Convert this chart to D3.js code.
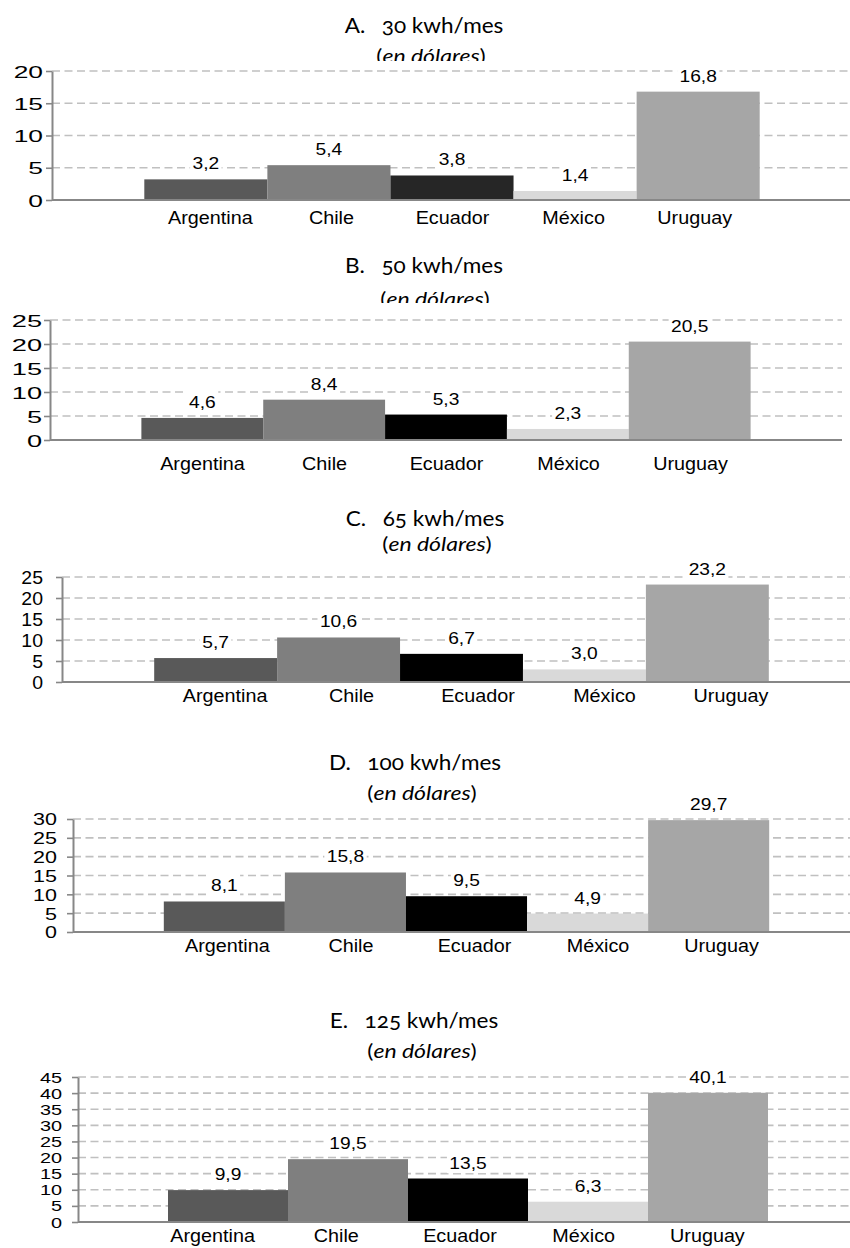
<!DOCTYPE html>
<html>
<head>
<meta charset="utf-8">
<script src="https://cdn.jsdelivr.net/npm/d3@7"></script>
<style>
  html, body { margin: 0; padding: 0; background: #fff; }
  svg { display: block; }
</style>
</head>
<body>
<svg id="chart" width="850" height="1248"></svg>
<script>
// ---- data ----
const countries = ["Argentina", "Chile", "Ecuador", "México", "Uruguay"];
const panelLetters = ["A", "B", "C", "D", "E"];
const consumptionKwh = [30, 50, 65, 100, 125];
const tariff30 = [3.2, 5.4, 3.8, 1.4, 16.8];
const tariff50 = [4.6, 8.4, 5.3, 2.3, 20.5];
const tariff65 = [5.7, 10.6, 6.7, 3.0, 23.2];
const tariff100 = [8.1, 15.8, 9.5, 4.9, 29.7];
const tariff125 = [9.9, 19.5, 13.5, 6.3, 40.1];
const yAxisMax = [20, 25, 25, 30, 45];
const yTickStep = 5;
const seriesValues = [tariff30, tariff50, tariff65, tariff100, tariff125];

// ---- styling ----
const countryColors = ["#595959", "#7f7f7f", "#000000", "#d9d9d9", "#a6a6a6"];
const gridColor = "#c0c0c0";
const axisColor = "#878787";
const sansFont = "'Liberation Sans', Arial, sans-serif";
const titleFont = "Lato, 'Open Sans', sans-serif";

// ---- frame of every panel ----
// left/right: plot area; top/base: pixel rows of the axis maximum and of zero;
// catLeft/catRight: band used to place the country names under the bars
const layout = [
  { left: 52, right: 852, top: 71,   base: 200,  catLeft: 59, catRight: 846, titleY: 33,   subY: 63,   subClip: 61,   titleX: 424, subX: 431, catY: 224,  tickGap: 9,  tickSize: 16.8, tickStretch: 1.57, ecuador: "#262626" },
  { left: 50, right: 842, top: 320,  base: 440,  catLeft: 50, catRight: 843, titleY: 273,  subY: 306,  subClip: 303,  titleX: 424, subX: 435, catY: 470,  tickGap: 8,  tickSize: 17,   tickStretch: 1.6 },
  { left: 62, right: 861, top: 577,  base: 682,  catLeft: 67, catRight: 889, titleY: 526,  subY: 551,  subClip: null, titleX: 425, subX: 437, catY: 702,  tickGap: 19, tickSize: 17.7, tickStretch: 1.1 },
  { left: 73, right: 860, top: 819,  base: 932,  catLeft: 73, catRight: 876, titleY: 770,  subY: 800,  subClip: null, titleX: 415, subX: 422, catY: 952,  tickGap: 16, tickSize: 16.3, tickStretch: 1.32 },
  { left: 78, right: 858, top: 1077, base: 1222, catLeft: 58, catRight: 862, titleY: 1028, subY: 1058, subClip: null, titleX: 414, subX: 422, catY: 1242, tickGap: 16, tickSize: 14,   tickStretch: 1.42 }
];

const svgWidth = 850;
const svg = d3.select("#chart");
const defs = svg.append("defs");

const numFmt = d3.formatLocale({ decimal: ",", thousands: ".", grouping: [3], currency: ["$", ""] }).format(".1f");

// text drawn with a horizontal stretch factor
function stretchedText(parent, x, y, str, size, stretch, anchor, family) {
  const g = parent.append("g").attr("transform", `translate(${x},${y}) scale(${stretch},1)`);
  const t = g.append("text")
    .attr("text-anchor", anchor || "middle")
    .attr("font-family", family || sansFont)
    .attr("font-size", size)
    .attr("fill", "#000");
  if (str !== null) t.text(str);
  return { g, t };
}

panelLetters.forEach((letter, i) => {
  const L = layout[i];
  const values = seriesValues[i];
  const panel = svg.append("g").attr("class", "panel panel-" + letter);

  const x = d3.scaleBand().domain(countries).range([L.left, L.right]).paddingInner(0).paddingOuter(0.75);
  const xLabel = d3.scaleBand().domain(countries).range([L.catLeft, L.catRight]).paddingInner(0).paddingOuter(0.75);
  const y = d3.scaleLinear().domain([0, yAxisMax[i]]).range([L.base, L.top]);
  const ticks = d3.range(0, yAxisMax[i] + yTickStep / 2, yTickStep);
  const gridRight = Math.min(L.right, svgWidth);

  // title
  const title = stretchedText(panel, L.titleX, L.titleY, null, 20.5, 1.1, "middle", titleFont).t
    .style("font-variant-numeric", "oldstyle-nums")
    .style("font-feature-settings", "'onum' 1");
  title.append("tspan").text(letter + ".");
  title.append("tspan").attr("dx", 15).text(`${consumptionKwh[i]} kwh/mes`);

  // subtitle
  const subParts = stretchedText(panel, L.subX, L.subY, null, 20, 1.15, "middle", titleFont);
  const sub = subParts.t;
  sub.append("tspan").text("(");
  sub.append("tspan").attr("font-style", "italic").text("en dólares");
  sub.append("tspan").text(")");
  if (L.subClip !== null) {
    const id = "subclip-" + letter;
    defs.append("clipPath").attr("id", id).attr("clipPathUnits", "userSpaceOnUse")
      .append("rect").attr("x", 0).attr("y", L.subY - 60).attr("width", svgWidth).attr("height", L.subClip - (L.subY - 60));
    panel.append("g").attr("clip-path", `url(#${id})`).node().appendChild(subParts.g.node());
  }

  // dashed gridlines
  panel.append("g").selectAll("line")
    .data(ticks.filter(t => t > 0))
    .join("line")
    .attr("x1", L.left).attr("x2", gridRight)
    .attr("y1", d => y(d)).attr("y2", d => y(d))
    .attr("stroke", gridColor)
    .attr("stroke-width", 1.6)
    .attr("stroke-dasharray", "8,4.5");

  // bars
  panel.append("g").selectAll("rect")
    .data(values)
    .join("rect")
    .attr("x", (d, j) => x(countries[j]))
    .attr("width", x.bandwidth())
    .attr("y", d => y(d))
    .attr("height", d => y(0) - y(d))
    .attr("fill", (d, j) => (j === 2 && L.ecuador) ? L.ecuador : countryColors[j]);

  // baseline
  panel.append("line")
    .attr("x1", L.left).attr("x2", gridRight)
    .attr("y1", y(0)).attr("y2", y(0))
    .attr("stroke", axisColor).attr("stroke-width", 2);

  // y axis
  const axis = panel.append("g")
    .attr("transform", `translate(${L.left},0)`)
    .call(d3.axisLeft(y).tickValues(ticks).tickSize(6).tickSizeOuter(0).tickFormat(d3.format("d")));
  axis.select(".domain").attr("stroke", axisColor).attr("stroke-width", 2);
  axis.selectAll(".tick line").attr("stroke", axisColor).attr("stroke-width", 1.6);
  axis.selectAll(".tick text")
    .attr("x", 0)
    .attr("dy", "0.36em")
    .attr("transform", `translate(${-L.tickGap},0) scale(${L.tickStretch},1)`)
    .attr("font-family", sansFont)
    .attr("font-size", L.tickSize)
    .attr("fill", "#000");

  // value labels on a white box
  values.forEach((v, j) => {
    const cx = x(countries[j]) + x.bandwidth() / 2;
    const { g, t } = stretchedText(panel, cx, y(v) - 10, numFmt(v), 16, 1.2, "middle");
    const bb = t.node().getBBox();
    g.insert("rect", "text")
      .attr("x", bb.x - 2).attr("y", bb.y - 3)
      .attr("width", bb.width + 4).attr("height", bb.height + 4)
      .attr("fill", "#fff");
  });

  // country labels
  countries.forEach(c => {
    stretchedText(panel, xLabel(c) + xLabel.bandwidth() / 2, L.catY, c, 18.5, 1.07, "middle");
  });
});
</script>
</body>
</html>
